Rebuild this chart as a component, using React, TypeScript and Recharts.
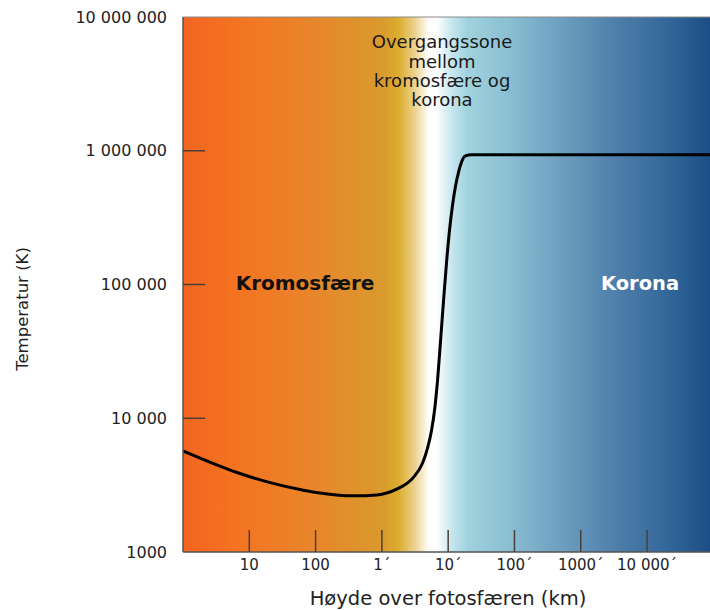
import { LineChart, Line, XAxis, YAxis, ReferenceArea, ReferenceLine } from 'recharts'

// height above the photosphere (km) and temperature (K)
const HEIGHT_KM = [
  1, 6.5, 20.6, 65.5, 208, 371, 835, 1670, 2970, 4113, 4894, 5623, 6237, 6920,
  7690, 8530, 9460, 10490, 11640, 12920, 14340, 15910, 18280, 22500, 89000000,
]
const TEMPERATURE_K = [
  5700, 3930, 3300, 2900, 2670, 2630, 2670, 2950, 3600, 4625, 5995, 8170, 11530,
  19320, 38460, 76560, 147300, 255500, 393000, 545000, 693000, 824000, 914000,
  935000, 935000,
]

const X_TICKS = [10, 100, 1000, 10000, 100000, 1000000, 10000000]
const X_TICK_LABELS = ['10', '100', '1´', '10´', '100´', '1000´', '10 000´']
const Y_TICKS = [1000, 10000, 100000, 1000000, 10000000]
const Y_TICK_LABELS = ['1000', '10 000', '100 000', '1 000 000', '10 000 000']

const X_DOMAIN = [1, 89000000]
const Y_DOMAIN = [1000, 10000000]

const FONT = '"DejaVu Sans", Verdana, sans-serif'
const AXIS_COLOR = '#555555'
const TICK_COLOR = '#4a4036'
const INNER_TICK = 22
const X_TICK_MARGIN = 7
const Y_TICK_MARGIN = 16

const chartData = HEIGHT_KM.map((km, i) => ({ km, temp: TEMPERATURE_K[i] }))

// tick label plus a short tick mark pointing into the plot
function XTick(props: any) {
  const { x, y, payload } = props
  const label = X_TICK_LABELS[X_TICKS.indexOf(payload.value)] ?? ''
  const axisY = y - X_TICK_MARGIN
  return (
    <g>
      <line x1={x} x2={x} y1={axisY} y2={axisY - INNER_TICK} stroke={TICK_COLOR} strokeWidth={1.5} />
      <text x={x} y={y} dy="0.71em" textAnchor="middle" fill="#222" fontSize={15} fontFamily={FONT}>
        {label}
      </text>
    </g>
  )
}

function YTick(props: any) {
  const { x, y, payload } = props
  const idx = Y_TICKS.indexOf(payload.value)
  const label = Y_TICK_LABELS[idx] ?? ''
  const axisX = x + Y_TICK_MARGIN
  const inner = idx > 0 && idx < Y_TICKS.length - 1
  return (
    <g>
      {inner && (
        <line x1={axisX} x2={axisX + INNER_TICK} y1={y} y2={y} stroke={TICK_COLOR} strokeWidth={1.5} />
      )}
      <text x={x} y={y} dy="0.355em" textAnchor="end" fill="#222" fontSize={16} fontFamily={FONT}>
        {label}
      </text>
    </g>
  )
}

function RegionLabels(props: any) {
  const vb = props.viewBox
  const cx = vb.x + 259
  return (
    <g fontFamily={FONT}>
      <text textAnchor="middle" fontSize={18} fill="#1a1a1a">
        <tspan x={cx} y={vb.y + 31}>Overgangssone</tspan>
        <tspan x={cx} y={vb.y + 51}>mellom</tspan>
        <tspan x={cx} y={vb.y + 70}>kromosfære og</tspan>
        <tspan x={cx} y={vb.y + 89}>korona</tspan>
      </text>
      <text x={vb.x + 122} y={vb.y + 273} textAnchor="middle" fontSize={20} fontWeight="bold" fill="#111">
        Kromosfære
      </text>
      <text x={vb.x + 457} y={vb.y + 273} textAnchor="middle" fontSize={19.5} fontWeight="bold" fill="#fff">
        Korona
      </text>
    </g>
  )
}

export default function App() {
  return (
    <div style={{ width: 710, height: 610, fontFamily: FONT }}>
      <style>{'body{margin:0}'}</style>
      <LineChart
        width={710}
        height={610}
        data={chartData}
        margin={{ top: 17, right: 0, bottom: 0, left: 0 }}
      >
        <defs>
          <linearGradient id="bgGrad" x1="0" y1="0" x2="1" y2="0">
            <stop offset="0" stopColor="#f26522" />
            <stop offset="0.1" stopColor="#f47321" />
            <stop offset="0.25" stopColor="#e8862b" />
            <stop offset="0.38" stopColor="#d99a2c" />
            <stop offset="0.41" stopColor="#dcae30" />
            <stop offset="0.44" stopColor="#ecd290" />
            <stop offset="0.465" stopColor="#fefcf6" />
            <stop offset="0.48" stopColor="#ffffff" />
            <stop offset="0.51" stopColor="#c6e6ee" />
            <stop offset="0.54" stopColor="#a0d2de" />
            <stop offset="0.62" stopColor="#8abed2" />
            <stop offset="0.72" stopColor="#6c9ebf" />
            <stop offset="0.82" stopColor="#4f7faa" />
            <stop offset="0.92" stopColor="#33679a" />
            <stop offset="1" stopColor="#1c4d84" />
          </linearGradient>
        </defs>
        <ReferenceArea
          x1={X_DOMAIN[0]}
          x2={X_DOMAIN[1]}
          y1={Y_DOMAIN[0]}
          y2={Y_DOMAIN[1]}
          fill="url(#bgGrad)"
          fillOpacity={1}
          stroke="none"
          label={RegionLabels}
        />
        <ReferenceLine y={Y_DOMAIN[1]} stroke="#8a8a8a" strokeWidth={1} />
        <XAxis
          dataKey="km"
          type="number"
          scale="log"
          domain={X_DOMAIN}
          allowDataOverflow
          ticks={X_TICKS}
          height={58}
          tickLine={false}
          tickSize={0}
          tickMargin={X_TICK_MARGIN}
          axisLine={{ stroke: AXIS_COLOR, strokeWidth: 1.5 }}
          tick={<XTick />}
        />
        <YAxis
          dataKey="temp"
          type="number"
          scale="log"
          domain={Y_DOMAIN}
          allowDataOverflow
          ticks={Y_TICKS}
          width={183}
          tickLine={false}
          tickSize={0}
          tickMargin={Y_TICK_MARGIN}
          axisLine={{ stroke: AXIS_COLOR, strokeWidth: 1.5 }}
          tick={<YTick />}
        />
        <Line
          dataKey="temp"
          type="monotone"
          stroke="#000"
          strokeWidth={3}
          dot={false}
          activeDot={false}
          isAnimationActive={false}
        />
        <text
          x={448}
          y={605}
          textAnchor="middle"
          fontFamily={FONT}
          fontSize={19.5}
          fill="#222"
        >
          Høyde over fotosfæren (km)
        </text>
        <text
          transform="translate(28 309) rotate(-90)"
          textAnchor="middle"
          fontFamily={FONT}
          fontSize={16.5}
          fill="#222"
        >
          Temperatur (K)
        </text>
      </LineChart>
    </div>
  )
}
